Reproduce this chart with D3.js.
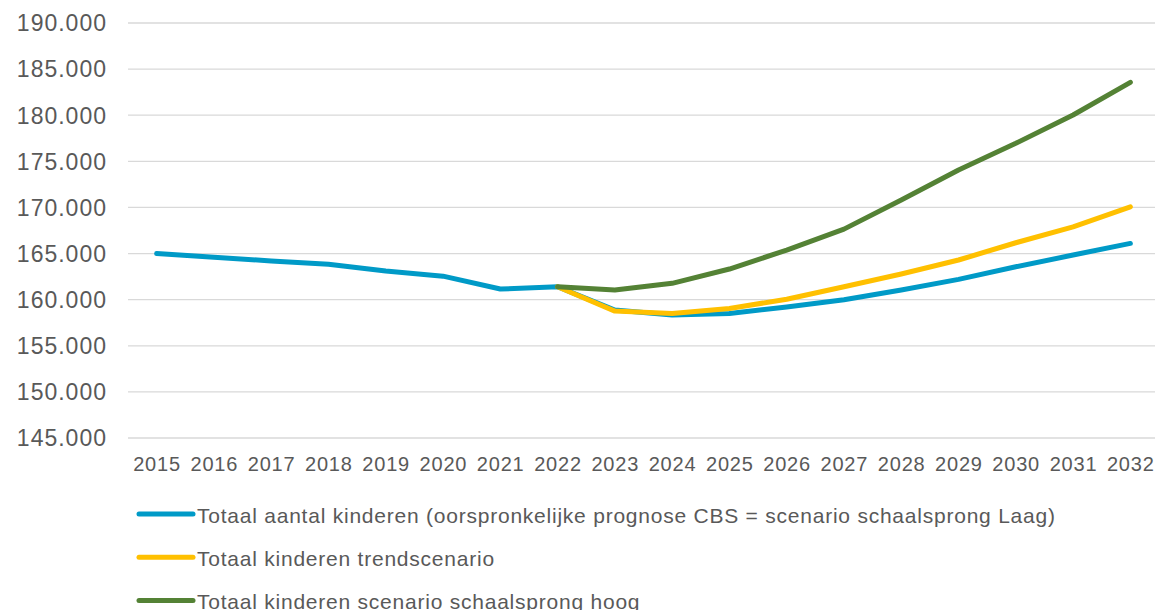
<!DOCTYPE html>
<html>
<head>
<meta charset="utf-8">
<script src="https://cdn.jsdelivr.net/npm/d3@7"></script>
<style>
  body { margin: 0; background: #fff; }
  svg { display: block; font-family: "Liberation Sans", Arial, sans-serif; }
</style>
</head>
<body>
<div id="chart"></div>
<script>
const years = d3.range(2015, 2033);
const yTicks = d3.range(145000, 190001, 5000);

// Totaal aantal kinderen (CBS = schaalsprong Laag)
const basisValues = [165000, 164600, 164200, 163830, 163100, 162550, 161150, 161400,
  158870, 158330, 158500, 159200, 160000, 161040, 162200, 163570, 164840, 166100];
// trendscenario, starts 2022
const trendValues = [null, null, null, null, null, null, null, 161400,
  158760, 158510, 159050, 160050, 161400, 162780, 164300, 166170, 167900, 170070];
// schaalsprong hoog, starts 2022
const hoogValues = [null, null, null, null, null, null, null, 161400,
  161040, 161770, 163320, 165380, 167650, 170800, 174060, 176950, 180020, 183570];

const seriesNames = [
  "Totaal aantal kinderen (oorspronkelijke prognose CBS = scenario schaalsprong Laag)",
  "Totaal kinderen trendscenario",
  "Totaal kinderen scenario schaalsprong hoog"
];
const seriesColors = ["#009AC7", "#FFC000", "#548235"];

const width = 1155, height = 610;
const margin = {top: 23, right: -4, bottom: 172, left: 128};

const svg = d3.select("#chart").append("svg")
  .attr("width", width)
  .attr("height", height);

const x = d3.scaleBand()
  .domain(years)
  .range([margin.left, width - margin.right]);

const y = d3.scaleLinear()
  .domain([145000, 190000])
  .range([height - margin.bottom, margin.top]);

const fmt = d => d3.format(",")(d).replace(/,/g, ".");

// grid
svg.append("g")
  .selectAll("line")
  .data(yTicks)
  .join("line")
  .attr("x1", margin.left)
  .attr("x2", width)
  .attr("y1", d => y(d))
  .attr("y2", d => y(d))
  .attr("stroke", "#d9d9d9")
  .attr("stroke-width", 1.3);

// y labels
svg.append("g")
  .selectAll("text")
  .data(yTicks)
  .join("text")
  .attr("x", 107)
  .attr("y", d => y(d))
  .attr("dy", "0.36em")
  .attr("text-anchor", "end")
  .attr("fill", "#595959")
  .attr("font-size", 23)
  .attr("letter-spacing", 1)
  .text(fmt);

// x labels
svg.append("g")
  .selectAll("text")
  .data(years)
  .join("text")
  .attr("x", d => x(d) + x.bandwidth() / 2 + 0.4)
  .attr("y", 470.5)
  .attr("text-anchor", "middle")
  .attr("fill", "#595959")
  .attr("font-size", 20)
  .attr("letter-spacing", 0.8)
  .text(d => d);

const series = [basisValues, trendValues, hoogValues];

const line = d3.line()
  .defined(d => d.v != null)
  .x(d => x(d.year) + x.bandwidth() / 2)
  .y(d => y(d.v));

svg.append("g")
  .selectAll("path")
  .data(series)
  .join("path")
  .attr("d", vals => line(vals.map((v, i) => ({year: years[i], v}))))
  .attr("fill", "none")
  .attr("stroke", (d, i) => seriesColors[i])
  .attr("stroke-width", 5)
  .attr("stroke-linecap", "round")
  .attr("stroke-linejoin", "round");

// legend
const legend = svg.append("g")
  .selectAll("g")
  .data(seriesNames)
  .join("g")
  .attr("transform", (d, i) => `translate(138, ${514 + i * 43.3})`);

legend.append("line")
  .attr("x1", 1)
  .attr("x2", 55)
  .attr("stroke", (d, i) => seriesColors[i])
  .attr("stroke-width", 5)
  .attr("stroke-linecap", "round");

legend.append("text")
  .attr("x", 59)
  .attr("y", 1)
  .attr("dy", "0.36em")
  .attr("fill", "#595959")
  .attr("font-size", 21)
  .attr("letter-spacing", 0.77)
  .text(d => d);
</script>
</body>
</html>
